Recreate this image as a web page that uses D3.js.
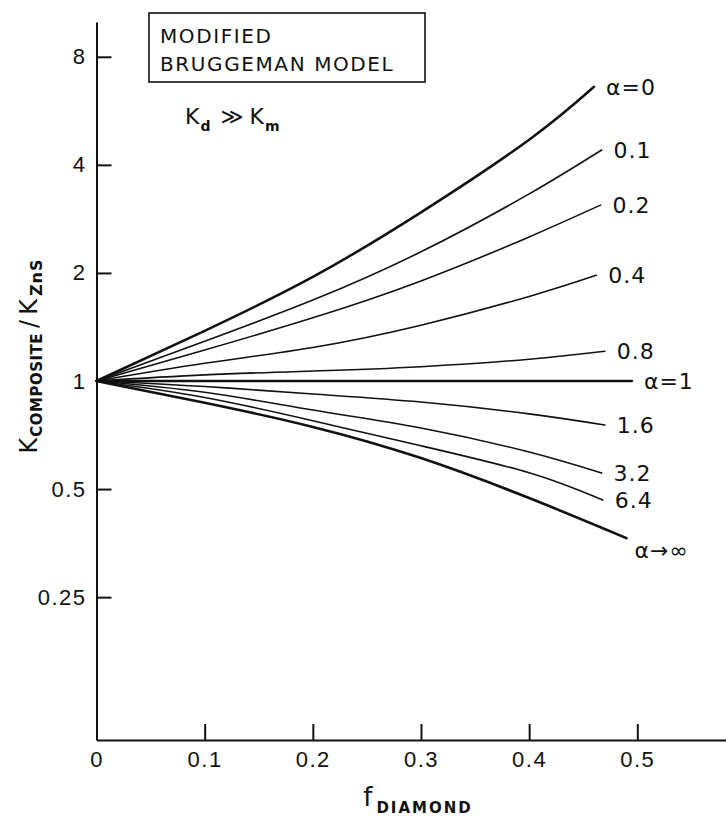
<!DOCTYPE html>
<html>
<head>
<meta charset="utf-8">
<script src="https://cdn.jsdelivr.net/npm/d3@7"></script>
<style>
  body { margin: 0; background: #fff; }
  svg { display: block; font-family: "DejaVu Sans", sans-serif; }
  .axis path, .axis line { stroke: #111; stroke-width: 2; }
  .axis text { font-size: 22px; fill: #111; letter-spacing: 1.5px; }
</style>
</head>
<body>
<div id="chart"></div>
<script>
// f_diamond values the curves were read at
var fDiamond = [0, 0.1, 0.2, 0.3, 0.4];
// last f value of each curve (the lines stop at different places)
var curveEnds = [0.46, 0.467, 0.466, 0.462, 0.47, 0.495, 0.47, 0.467, 0.468, 0.49];
var alphaLabels = ['α=0', '0.1', '0.2', '0.4', '0.8', 'α=1', '1.6', '3.2', '6.4', 'α→∞'];

// K_composite / K_ZnS at fDiamond, then at the curve end
var alpha0   = [1, 1.38, 1.95, 2.95, 4.7, 6.6];
var alpha01  = [1, 1.29, 1.68, 2.29, 3.32, 4.4];
var alpha02  = [1, 1.22, 1.50, 1.90, 2.52, 3.09];
var alpha04  = [1, 1.12, 1.24, 1.43, 1.72, 1.97];
var alpha08  = [1, 1.04, 1.066, 1.096, 1.15, 1.21];
var alpha1   = [1, 1, 1, 1, 1, 1];
var alpha16  = [1, 0.965, 0.92, 0.874, 0.81, 0.754];
var alpha32  = [1, 0.93, 0.83, 0.74, 0.634, 0.554];
var alpha64  = [1, 0.9, 0.775, 0.66, 0.555, 0.466];
var alphaInf = [1, 0.87, 0.745, 0.61, 0.472, 0.365];

var series = [alpha0, alpha01, alpha02, alpha04, alpha08, alpha1, alpha16, alpha32, alpha64, alphaInf];

var xTicks = [0, 0.1, 0.2, 0.3, 0.4, 0.5];
var yTicks = [0.25, 0.5, 1, 2, 4, 8];

var width = 726, height = 818;

var svg = d3.select('#chart').append('svg')
  .attr('width', width).attr('height', height);

var x = d3.scaleLinear().domain([0, 0.582]).range([96.5, 726]);
var y = d3.scaleLog().domain([0.1, 10]).range([740, 22]);

// axes, ticks pointing into the plot
var xAxis = d3.axisBottom(x).tickValues(xTicks)
  .tickSizeInner(-16).tickSizeOuter(0).tickPadding(11)
  .tickFormat(function (d) { return d === 0 ? '0' : d3.format('.1f')(d); });
svg.append('g').attr('class', 'axis')
  .attr('transform', 'translate(0,' + y.range()[0] + ')')
  .call(xAxis);

var yAxis = d3.axisLeft(y).tickValues(yTicks)
  .tickSizeInner(-15).tickSizeOuter(0).tickPadding(10)
  .tickFormat(function (d) { return String(d); });
svg.append('g').attr('class', 'axis')
  .attr('transform', 'translate(' + x.range()[0] + ',0)')
  .call(yAxis);

// curves
var thick = { 0: 2.5, 5: 2.4, 9: 2.6 };
var line = d3.line()
  .x(function (d) { return x(d[0]); })
  .y(function (d) { return y(d[1]); })
  .curve(d3.curveNatural);

series.forEach(function (vals, i) {
  var pts = vals.map(function (v, j) {
    return [j < fDiamond.length ? fDiamond[j] : curveEnds[i], v];
  });
  svg.append('path')
    .attr('d', line(pts))
    .attr('fill', 'none')
    .attr('stroke', '#111')
    .attr('stroke-width', thick[i] || 1.6)
    .attr('stroke-linecap', 'round');

  var last = pts[pts.length - 1];
  svg.append('text')
    .attr('x', x(last[0]) + (i === 9 ? 8 : 12))
    .attr('y', y(last[1]) + (i === 9 ? 12 : 0))
    .attr('dy', '0.36em')
    .style('font-size', '22px')
    .style('letter-spacing', '1px')
    .style('fill', '#111')
    .text(alphaLabels[i]);
});

// title box
svg.append('rect')
  .attr('x', 149).attr('y', 13).attr('width', 276).attr('height', 69)
  .attr('fill', 'none').attr('stroke', '#111').attr('stroke-width', 1.6);
svg.append('text').attr('x', 160).attr('y', 43)
  .style('font-size', '20px').style('letter-spacing', '1.6px').style('fill', '#111')
  .text('MODIFIED');
svg.append('text').attr('x', 160).attr('y', 71)
  .style('font-size', '20px').style('letter-spacing', '1.6px').style('fill', '#111')
  .text('BRUGGEMAN MODEL');

// K_d >> K_m
var kd = svg.append('text').attr('x', 185).attr('y', 124)
  .style('font-size', '22px').style('fill', '#111');
kd.append('tspan').text('K');
kd.append('tspan').attr('dy', 7).attr('dx', 1).style('font-size', '14px').style('font-weight', 'bold').text('d');
kd.append('tspan').attr('dy', -7).attr('dx', 10).text('≫');
kd.append('tspan').attr('dx', 6).text('K');
kd.append('tspan').attr('dy', 7).attr('dx', 1).style('font-size', '14px').style('font-weight', 'bold').text('m');

// y axis title
var yt = svg.append('text')
  .attr('transform', 'translate(37,356) rotate(-90)')
  .attr('text-anchor', 'middle')
  .style('font-size', '24px').style('fill', '#111');
yt.append('tspan').text('K');
yt.append('tspan').attr('dy', 5).attr('dx', 1).style('font-size', '15px').style('font-weight', 'bold')
  .style('letter-spacing', '0.5px').text('COMPOSITE');
yt.append('tspan').attr('dy', -5).attr('dx', 5).text('/');
yt.append('tspan').attr('dx', 5).text('K');
yt.append('tspan').attr('dy', 5).attr('dx', 3).style('font-size', '16px').style('font-weight', 'bold')
  .style('letter-spacing', '1px').text('ZnS');

// x axis title
var xt = svg.append('text')
  .attr('x', 418).attr('y', 806)
  .attr('text-anchor', 'middle')
  .style('font-size', '26px').style('fill', '#111');
xt.append('tspan').text('f');
xt.append('tspan').attr('dy', 7).attr('dx', 4).style('font-size', '15px').style('font-weight', 'bold')
  .style('letter-spacing', '2px').text('DIAMOND');
</script>
</body>
</html>
